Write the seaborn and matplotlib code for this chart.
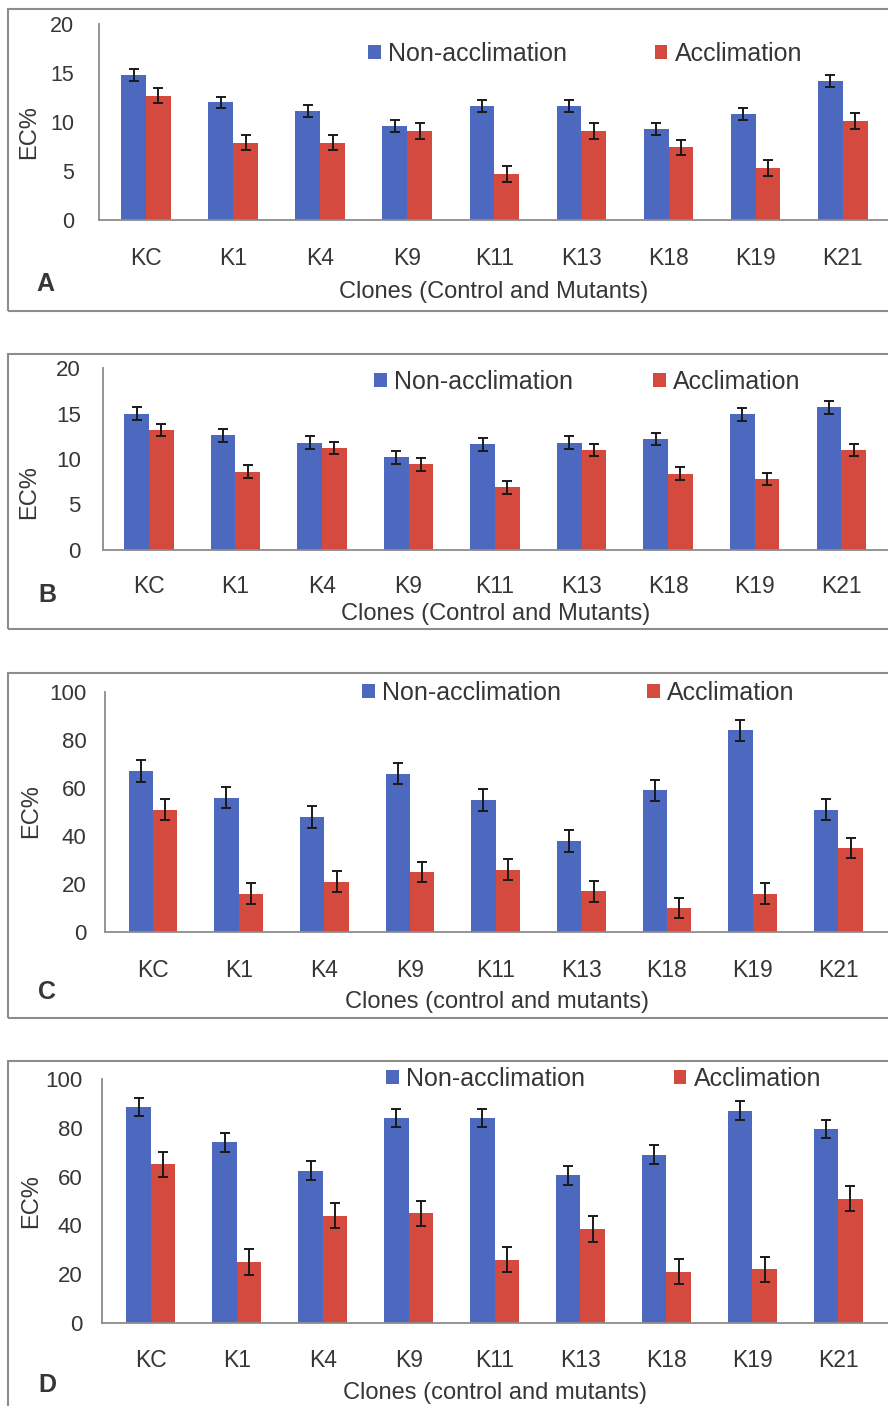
import numpy as np
import pandas as pd
import matplotlib
matplotlib.use("Agg")
import matplotlib.pyplot as plt
from matplotlib.patches import Rectangle
import seaborn as sns

# ---------------- data ----------------
clones = ["KC", "K1", "K4", "K9", "K11", "K13", "K18", "K19", "K21"]
treatments = ["Non-acclimation", "Acclimation"]

a_non = [14.8, 12.0, 11.1, 9.6, 11.6, 11.6, 9.3, 10.8, 14.2]
a_acc = [12.7, 7.9, 7.9, 9.1, 4.7, 9.1, 7.4, 5.3, 10.1]
a_non_err = [0.6, 0.6, 0.6, 0.6, 0.6, 0.6, 0.6, 0.6, 0.6]
a_acc_err = [0.8, 0.8, 0.8, 0.8, 0.8, 0.8, 0.8, 0.8, 0.8]

b_non = [15.0, 12.6, 11.8, 10.2, 11.6, 11.8, 12.2, 14.9, 15.7]
b_acc = [13.2, 8.6, 11.2, 9.4, 6.9, 11.0, 8.4, 7.8, 11.0]
b_non_err = [0.7, 0.7, 0.7, 0.7, 0.7, 0.7, 0.7, 0.7, 0.7]
b_acc_err = [0.7, 0.7, 0.7, 0.7, 0.7, 0.7, 0.7, 0.7, 0.7]

c_non = [67, 56, 48, 66, 55, 38, 59, 84, 51]
c_acc = [51, 16, 21, 25, 26, 17, 10, 16, 35]
c_non_err = [4.5, 4.5, 4.5, 4.5, 4.5, 4.5, 4.5, 4.5, 4.5]
c_acc_err = [4.3, 4.3, 4.3, 4.3, 4.3, 4.3, 4.3, 4.3, 4.3]

d_non = [88.5, 74, 62.5, 84, 84, 60.5, 69, 87, 79.5]
d_acc = [65, 25, 44, 45, 26, 38.5, 21, 22, 51]
d_non_err = [3.8, 3.8, 3.8, 3.8, 3.8, 3.8, 3.8, 3.8, 3.8]
d_acc_err = [5.2, 5.2, 5.2, 5.2, 5.2, 5.2, 5.2, 5.2, 5.2]

letters = ["A", "B", "C", "D"]
xlabels = ["Clones (Control and Mutants)", "Clones (Control and Mutants)",
           "Clones (control and mutants)", "Clones (control and mutants)"]
ylabel = "EC%"
ymax = [20, 20, 100, 100]
ystep = [5, 5, 20, 20]

# ---------------- style ----------------
sns.set_style("white")
plt.rcParams["font.family"] = ["Liberation Sans", "DejaVu Sans"]

BLUE = "#4C69BF"
RED = "#D44A3F"
TXT = "#363636"
GRAY = "#8c8c8c"

W, H = 888, 1406
fig = plt.figure(figsize=(W / 100, H / 100), dpi=100)
fig.patch.set_facecolor("white")

# layout (pixels): box top/bottom, axes left/top/bottom, xlim, legend, labels
layout = [
    dict(box=(9, 311), left=99, top=24, bottom=220, xlim=(-0.54, 8.52),
         leg=(368, 54, 3.5), xl=292, yl=(29, 132), let=(45, 284),
         ytfs=15.5, ytpad=14, xtpad=19.7),
    dict(box=(354, 629), left=103, top=368, bottom=550, xlim=(-0.53, 8.54),
         leg=(374, 382, 3.2), xl=614, yl=(29, 492), let=(47, 595),
         ytfs=16, ytpad=12, xtpad=18.3),
    dict(box=(673, 1018), left=105, top=692, bottom=932, xlim=(-0.56, 8.58),
         leg=(362, 693, 3.45), xl=1002, yl=(31, 811), let=(47, 992),
         ytfs=16, ytpad=9.5, xtpad=19.7),
    dict(box=(1061, 1440), left=102, top=1079, bottom=1323, xlim=(-0.57, 8.58),
         leg=(386, 1079, 3.55), xl=1393, yl=(31, 1201), let=(47, 1385),
         ytfs=16, ytpad=10, xtpad=19.0),
]

series = [
    (a_non, a_acc, a_non_err, a_acc_err),
    (b_non, b_acc, b_non_err, b_acc_err),
    (c_non, c_acc, c_non_err, c_acc_err),
    (d_non, d_acc, d_non_err, d_acc_err),
]

for k, (lay, (non, acc, nerr, aerr)) in enumerate(zip(layout, series)):
    # panel frame
    b0, b1 = lay["box"]
    fig.add_artist(Rectangle((8 / W, 1 - b1 / H), (W + 20 - 8) / W, (b1 - b0) / H,
                             transform=fig.transFigure, fill=False,
                             ec=GRAY, lw=1.5, zorder=0))

    left, top, bottom = lay["left"], lay["top"], lay["bottom"]
    ax_w = W - left
    ax_h = bottom - top
    ax = fig.add_axes([left / W, 1 - bottom / H, ax_w / W, ax_h / H])
    ax.set_facecolor("none")

    df = pd.DataFrame({
        "clone": clones * 2,
        "treatment": [treatments[0]] * len(clones) + [treatments[1]] * len(clones),
        "value": list(non) + list(acc),
    })
    sns.barplot(data=df, x="clone", y="value", hue="treatment",
                order=clones, hue_order=treatments,
                palette=[BLUE, RED], saturation=1, width=0.57, gap=0,
                errorbar=None, ax=ax, zorder=2, linewidth=0, edgecolor="none")

    for cont, errs in zip(ax.containers, [nerr, aerr]):
        xs = [p.get_x() + p.get_width() / 2 for p in cont.patches]
        ys = [p.get_height() for p in cont.patches]
        ax.errorbar(xs, ys, yerr=errs, fmt="none", ecolor="#1a1a1a",
                    elinewidth=1.4, capsize=3.6, capthick=1.4, zorder=3)

    ax.set_xlim(*lay["xlim"])
    ax.set_ylim(0, ymax[k])
    ax.set_yticks(np.arange(0, ymax[k] + 1, ystep[k]))
    for s in ["top", "right"]:
        ax.spines[s].set_visible(False)
    for s in ["left", "bottom"]:
        ax.spines[s].set_color(GRAY)
        ax.spines[s].set_linewidth(1.3)
    ax.tick_params(axis="x", length=0, pad=lay["xtpad"], labelsize=16.5,
                   labelcolor=TXT)
    ax.tick_params(axis="y", length=4, width=1.2, color=GRAY, direction="out",
                   pad=lay["ytpad"], labelsize=lay["ytfs"], labelcolor=TXT)

    ax.set_xlabel(xlabels[k], fontsize=17, color=TXT, va="center")
    ax.xaxis.set_label_coords(0.5, -(lay["xl"] - bottom) / ax_h)
    ax.set_ylabel(ylabel, fontsize=17, color=TXT, va="center")
    ylx, yly = lay["yl"]
    ax.yaxis.set_label_coords((ylx - left) / ax_w, (bottom - yly) / ax_h)

    handles, labels = ax.get_legend_handles_labels()
    lx, ly, cs = lay["leg"]
    ax.legend(handles, labels, ncol=2, loc="center left",
              bbox_to_anchor=(lx / W, 1 - ly / H), bbox_transform=fig.transFigure,
              frameon=False, fontsize=18, handlelength=0.5, handleheight=0.5,
              handletextpad=0.3, columnspacing=cs, borderpad=0, borderaxespad=0,
              labelcolor=TXT)

    lxp, lyp = lay["let"]
    fig.text(lxp / W, 1 - lyp / H, letters[k], fontsize=18, fontweight="bold",
             color=TXT, ha="center", va="center")

fig.savefig("out.png", dpi=100, facecolor="white")
